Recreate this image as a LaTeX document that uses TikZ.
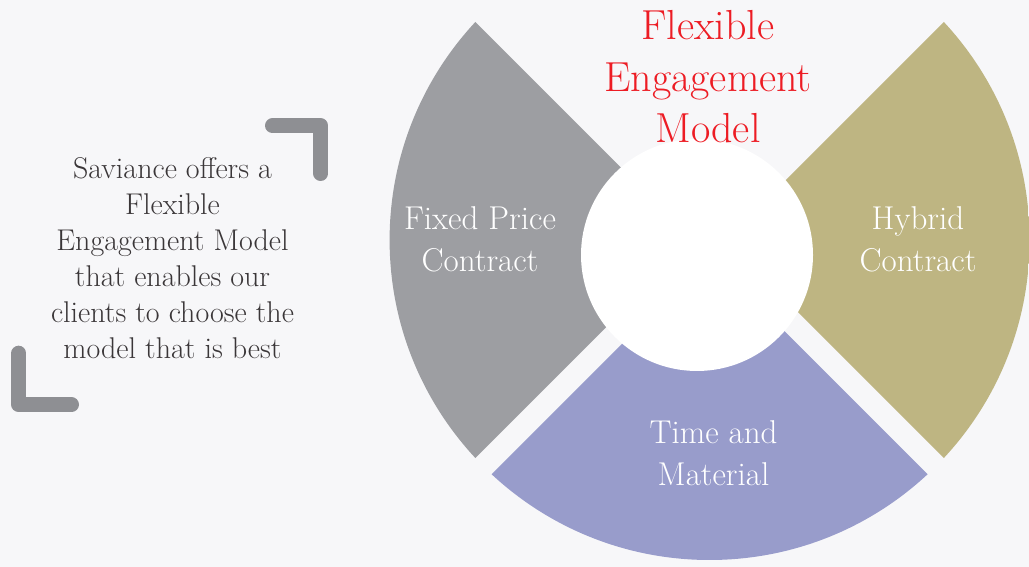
\documentclass[tikz,border=0pt]{standalone}
\usepackage{fontspec}
\definecolor{pagebg}{RGB}{247,247,249}
\definecolor{fixedgray}{RGB}{157,158,162}
\definecolor{hybridtan}{RGB}{190,181,130}
\definecolor{timeblue}{RGB}{152,156,203}
\definecolor{titlered}{RGB}{237,28,36}
\definecolor{bodytext}{RGB}{58,54,56}
\definecolor{bracketgray}{RGB}{142,143,147}

\begin{document}
\begin{tikzpicture}[x=1pt,y=1pt,
    segtext/.style={white, align=center, anchor=base, inner sep=0pt, font=\fontsize{33}{41.7}\selectfont},
    bracket/.style={bracketgray, line width=15pt, line cap=round, line join=round}]
    \fill[pagebg] (0,0) rectangle (1029,567);
    \useasboundingbox (0,0) rectangle (1029,567);

    \coordinate (hub) at (709.6,327);
    \begin{scope}[shift={(hub)}]
      \clip (0,0) circle (320);
      \fill[fixedgray] (180:16.3) -- +(135:500) -- +(225:500) -- cycle;
      \fill[timeblue] (270:16.3) -- +(225:500) -- +(315:500) -- cycle;
      \fill[hybridtan] (0:16.3) -- +(-45:500) -- +(45:500) -- cycle;
    \end{scope}
    \node[circle, fill=white, minimum size=232pt, inner sep=0pt] (core) at (697,312) {};

    % anchor base = last line
    \node[text=titlered, align=center, anchor=base, inner sep=0pt, font=\fontsize{42}{51.5}\selectfont] (title) at (708,424) {Flexible\\Engagement\\Model};

    \node[segtext] (fixed) at (480,295.3) {Fixed Price\\Contract};
    \node[segtext] (hybrid) at (918,295.3) {Hybrid\\Contract};
    \node[segtext] (tm) at (713.5,81.3) {Time and\\Material};

    \node[text=bodytext, align=center, anchor=base, inner sep=0pt, font=\fontsize{30}{35.9}\selectfont] (blurb) at (172.5,208.7) {Saviance offers a\\Flexible\\Engagement Model\\that enables our\\clients to choose the\\model that is best};

    \coordinate (b1) at (272.5,441.2);
    \coordinate (b2) at (320.8,441.2);
    \coordinate (b3) at (320.8,393.5);
    \coordinate (b4) at (18.8,213.8);
    \coordinate (b5) at (18.8,162.3);
    \coordinate (b6) at (71.5,162.3);
    \draw[bracket] (b1) -- (b2) -- (b3);
    \draw[bracket] (b4) -- (b5) -- (b6);

  \end{tikzpicture}
\end{document}
